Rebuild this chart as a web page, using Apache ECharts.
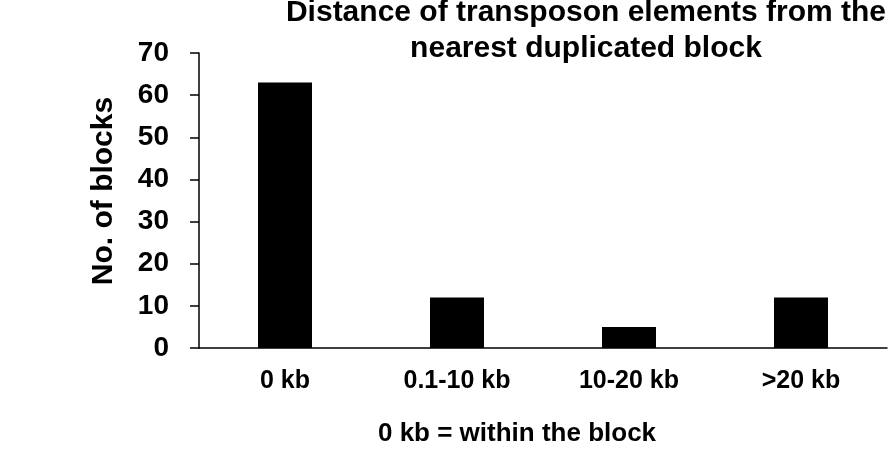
<!DOCTYPE html>
<html>
<head>
<meta charset="utf-8">
<script src="https://cdn.jsdelivr.net/npm/echarts@6/dist/echarts.min.js"></script>
<style>
  html, body { margin: 0; padding: 0; background: #ffffff; }
  #chart { width: 893px; height: 460px; }
</style>
</head>
<body>
<div id="chart"></div>
<script>
const categories = ['0 kb', '0.1-10 kb', '10-20 kb', '>20 kb'];
const blockCounts = [63, 12, 5, 12];
const titleText = 'Distance of transposon elements from the\nnearest duplicated block';
const yAxisName = 'No. of blocks';
const noteText = '0 kb = within the block';

const FONT = "'Liberation Sans', Arial, Helvetica, sans-serif";

const chart = echarts.init(document.getElementById('chart'), null, { renderer: 'canvas' });
chart.setOption({
  animation: false,
  backgroundColor: '#ffffff',
  grid: { left: 199, right: 6, top: 53, bottom: 112, containLabel: false },
  xAxis: {
    type: 'category',
    data: categories,
    axisLine: { show: true, lineStyle: { color: '#000', width: 1.5 } },
    axisTick: { show: false },
    axisLabel: { color: '#000', fontFamily: FONT, fontWeight: 'bold', fontSize: 25, margin: 21 }
  },
  yAxis: {
    type: 'value',
    min: 0, max: 70, interval: 10,
    splitLine: { show: false },
    axisLine: { show: true, lineStyle: { color: '#000', width: 1.5 } },
    axisTick: { show: true, length: 9, inside: false, lineStyle: { color: '#000', width: 1.5 } },
    axisLabel: { color: '#000', fontFamily: FONT, fontWeight: 'bold', fontSize: 28, margin: 30 }
  },
  series: [{
    type: 'bar',
    data: blockCounts,
    barWidth: 54,
    itemStyle: { color: '#000' }
  }],
  graphic: [
    {
      type: 'text',
      x: 586, y: -5,
      style: {
        text: titleText,
        fill: '#000',
        font: 'bold 30px ' + FONT,
        textAlign: 'center',
        textVerticalAlign: 'top',
        lineHeight: 36
      }
    },
    {
      type: 'text',
      x: 104, y: 191,
      rotation: Math.PI / 2,
      style: {
        text: yAxisName,
        fill: '#000',
        font: 'bold 30px ' + FONT,
        textAlign: 'center',
        textVerticalAlign: 'middle'
      }
    },
    {
      type: 'text',
      x: 517, y: 434,
      style: {
        text: noteText,
        fill: '#000',
        font: 'bold 26px ' + FONT,
        textAlign: 'center',
        textVerticalAlign: 'middle'
      }
    }
  ]
});
</script>
</body>
</html>
